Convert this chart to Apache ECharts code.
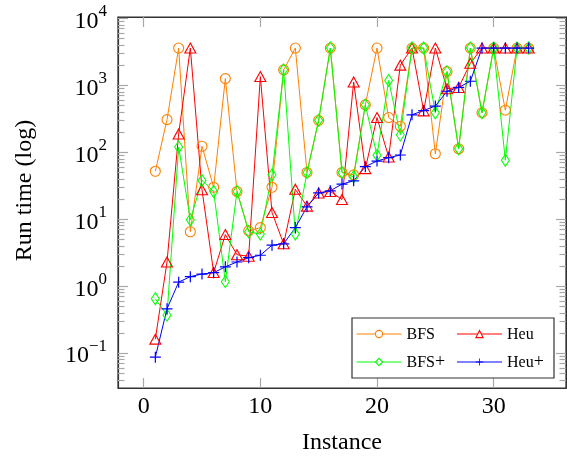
<!DOCTYPE html>
<html>
<head>
<meta charset="utf-8">
<script src="https://cdn.jsdelivr.net/npm/echarts@6/dist/echarts.min.js"></script>
<style>
html,body{margin:0;padding:0;background:#fff;}
#c{width:567px;height:460px;}
</style>
</head>
<body>
<div id="c"></div>
<script>
// ---- data ----
var instances = [1,2,3,4,5,6,7,8,9,10,11,12,13,14,15,16,17,18,19,20,21,22,23,24,25,26,27,28,29,30,31,32,33];
var bfs     = [52, 307, 3600, 6.5, 123, 30, 1260, 26, 6.7, 7.5, 30, 1700, 3600, 50, 300, 3600, 50, 46, 510, 3600, 330, 245, 3600, 3600, 95, 1600, 113, 3600, 390, 3600, 425, 3600, 3600];
var heu     = [0.162, 2.3, 188, 3600, 27.6, 1.6, 5.9, 2.95, 2.8, 1350, 12.6, 4.3, 28, 15.7, 24.7, 26, 19.7, 1120, 57, 330, 85, 2000, 3600, 415, 3600, 890, 930, 2130, 3600, 3600, 3600, 3600, 3600];
var bfsPlus = [0.65, 0.37, 120, 9.8, 38, 26, 1.17, 26, 6.5, 6.0, 46, 1700, 6.0, 50, 300, 3600, 50, 43, 510, 90, 1180, 182, 3600, 3600, 390, 1600, 113, 3600, 390, 3600, 76, 3600, 3600];
var heuPlus = [0.087, 0.46, 1.15, 1.39, 1.52, 1.59, 1.95, 2.3, 2.67, 2.9, 4.1, 4.3, 7.5, 15.3, 24.7, 26.6, 33.5, 37.5, 61, 74, 83, 91, 363, 420, 490, 815, 930, 1150, 3600, 3600, 3600, 3600, 3600];
var xTicks = [0, 10, 20, 30];
var yTicks = [0.1, 1, 10, 100, 1000, 10000];
var seriesNames = ['BFS', 'Heu', 'BFS+', 'Heu+'];
var seriesColors = ['#ff8000', '#ff0000', '#00ff00', '#0000ff'];

// ---- chart ----
var FONT = 'Liberation Serif';
var yMin = Math.pow(10, -1.52), yMax = Math.pow(10, 4.02);
var minorY = [];
for (var n = -2; n <= 3; n++) for (var k = 2; k <= 9; k++) {
  var v = k * Math.pow(10, n);
  if (v > yMin && v < yMax) minorY.push(v);
}
function pairs(arr) { return instances.map(function (x, i) { return [x, arr[i]]; }); }
var frameColor = '#333333', tickColor = '#a8a8a8';
var plusPath = 'path://M4.45,0H5.55V4.45H10V5.55H5.55V10H4.45V5.55H0V4.45H4.45Z';

function yAxisDef(pos, minor, labels) {
  return {
    type: 'log', logBase: 10, min: yMin, max: yMax, position: pos,
    axisLine: { show: !minor, onZero: false, lineStyle: { color: frameColor, width: 1.2 } },
    axisTick: { show: true, inside: true, length: minor ? 6.5 : 10, customValues: minor ? minorY : yTicks,
      lineStyle: { color: tickColor, width: 1.2 } },
    axisLabel: labels ? {
      show: true, customValues: yTicks, margin: 11, fontFamily: FONT, color: '#000',
      formatter: function (val) {
        var e = Math.round(Math.log10(val));
        return '{b|10}{e|' + (e < 0 ? '\u2212' + (-e) : e) + '}';
      },
      rich: {
        b: { fontSize: 24, fontFamily: FONT, color: '#000', verticalAlign: 'bottom', lineHeight: 30 },
        e: { fontSize: 17, fontFamily: FONT, color: '#000', verticalAlign: 'top', lineHeight: 30 }
      }
    } : { show: false },
    splitLine: { show: false },
    name: labels ? 'Run time (log)' : '',
    nameLocation: 'middle', nameGap: 81,
    nameTextStyle: { fontFamily: FONT, fontSize: 24, color: '#000', padding: [0, 0, 0, 24] }
  };
}
function xAxisDef(pos, labels) {
  return {
    type: 'value', min: -2.2, max: 36.2, position: pos,
    axisLine: { show: true, onZero: false, lineStyle: { color: frameColor, width: 1.2 } },
    axisTick: { show: true, inside: true, length: 10, customValues: xTicks,
      lineStyle: { color: tickColor, width: 1.2 } },
    axisLabel: labels ? { show: true, customValues: xTicks, margin: 7, fontFamily: FONT, fontSize: 24, color: '#000' } : { show: false },
    splitLine: { show: false },
    name: labels ? 'Instance' : '',
    nameLocation: 'middle', nameGap: 43,
    nameTextStyle: { fontFamily: FONT, fontSize: 24, color: '#000' }
  };
}
function lineSeries(name, data, color, symbol, size) {
  return {
    name: name, type: 'line', data: pairs(data),
    symbol: symbol, symbolSize: size,
    lineStyle: { color: color, width: 1 },
    itemStyle: symbol === plusPath ? { color: color, borderWidth: 0 } : { color: 'rgba(255,255,255,0)', borderColor: color, borderWidth: 1.1 },
    emphasis: { disabled: true },
    xAxisIndex: 0, yAxisIndex: 0
  };
}
function legendFmt(name) {
  if (name.slice(-1) === '+') return '{n|' + name.slice(0, -1) + '}{s|+}';
  return '{n|' + name + '}';
}
var legendData = seriesNames.map(function (nm, i) {
  var isPlus = nm === 'Heu+';
  return {
    name: nm,
    itemStyle: isPlus ? { color: seriesColors[i], borderWidth: 0 } : { color: '#ffffff', borderColor: seriesColors[i], borderWidth: 1.1 },
    lineStyle: { color: seriesColors[i], width: 1 }
  };
});

var chart = echarts.init(document.getElementById('c'), null, { renderer: 'canvas' });
chart.setOption({
  animation: false,
  backgroundColor: '#fff',
  grid: { left: 118, top: 17, width: 448, height: 373, show: true, borderColor: frameColor, borderWidth: 1.2, backgroundColor: 'rgba(0,0,0,0)' },
  xAxis: [xAxisDef('bottom', true), xAxisDef('top', false)],
  yAxis: [yAxisDef('left', false, true), yAxisDef('left', true, false), yAxisDef('right', false, false), yAxisDef('right', true, false)],
  legend: {
    data: legendData, left: 352, top: 318, width: 200,
    orient: 'horizontal', itemWidth: 45, itemHeight: 9, itemGap: 10,
    padding: [7, 7, 7, 4], borderColor: frameColor, borderWidth: 1.2, backgroundColor: '#fff',
    formatter: legendFmt,
    textStyle: {
      width: 40, fontFamily: FONT, fontSize: 16, color: '#000', lineHeight: 18,
      rich: {
        n: { fontFamily: FONT, fontSize: 16, color: '#000', lineHeight: 18, verticalAlign: 'bottom' },
        s: { fontFamily: FONT, fontSize: 18, color: '#000', lineHeight: 18, verticalAlign: 'top' }
      }
    }
  },
  series: [
    lineSeries('BFS', bfs, seriesColors[0], 'circle', 10),
    lineSeries('Heu', heu, seriesColors[1], 'triangle', [11, 10]),
    lineSeries('BFS+', bfsPlus, seriesColors[2], 'diamond', [8, 12]),
    lineSeries('Heu+', heuPlus, seriesColors[3], plusPath, 11)
  ]
});
</script>
</body>
</html>
